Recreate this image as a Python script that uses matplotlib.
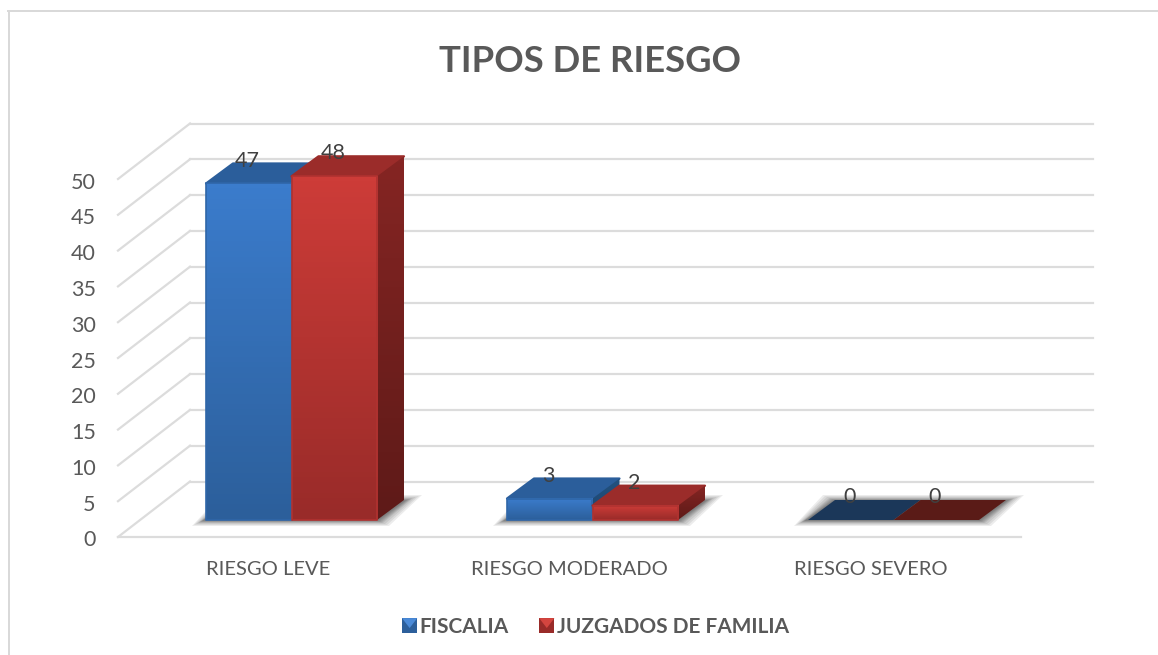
import matplotlib
matplotlib.use('Agg')
import matplotlib.pyplot as plt
import numpy as np
from matplotlib.colors import LinearSegmentedColormap
from matplotlib.legend_handler import HandlerBase
from matplotlib.lines import Line2D
from matplotlib.patches import Patch, Polygon, Rectangle
from matplotlib.transforms import ScaledTranslation

categories = ['RIESGO LEVE', 'RIESGO MODERADO', 'RIESGO SEVERO']
fiscalia = [47, 3, 0]
juzgados = [48, 2, 0]
series_names = ['FISCALIA', 'JUZGADOS DE FAMILIA']
y_ticks = [0, 5, 10, 15, 20, 25, 30, 35, 40, 45, 50]

W, H = 1158, 655
plt.rcParams['font.family'] = ['Lato', 'DejaVu Sans']

fig = plt.figure(figsize=(W / 100, H / 100), dpi=100)
# axes box = front of the floor, 0 at y=537 and 50 at y=179 (pixels)
ax = fig.add_axes([118 / W, 1 - 537 / H, (1021 - 118) / W, (537 - 179) / H])
ax.set_xlim(-0.5, 2.5)
ax.set_ylim(0, 50)
ax.patch.set_visible(False)
for s in ax.spines.values():
    s.set_visible(False)

px_x = 3 / (1021 - 118)
px_y = 50 / (537 - 179)
wall_dx, wall_dy = 72 * px_x, 55.5 * px_y
base_dx, base_dy = 23 * px_x, 17 * px_y
bar_dx, bar_dy = 27 * px_x, 20 * px_y
bar_w = 85.5 * px_x
grid_c = '#dcdcdc'

# walls
for v in y_ticks:
    ax.plot([-0.5, -0.5 + wall_dx], [v, v + wall_dy], color=grid_c, lw=1.6,
            clip_on=False, zorder=1)
    ax.plot([-0.5 + wall_dx, 2.5 + wall_dx], [v + wall_dy, v + wall_dy], color=grid_c,
            lw=1.6, clip_on=False, zorder=1)
ax.plot([-0.5, 2.5], [0, 0], color=grid_c, lw=1.6, clip_on=False, zorder=1)

ax.set_xticks(range(3))
ax.set_xticklabels(categories, fontsize=14.5, color='#595959')
ax.set_yticks(y_ticks)
ax.set_yticklabels(y_ticks, fontsize=15.5, color='#595959')
ax.tick_params(length=0)
ax.tick_params(axis='x', pad=17)
ax.tick_params(axis='y', pad=16)
# labels sit a bit under the wall lines
down = ScaledTranslation(0, -1.5 / 100, fig.dpi_scale_trans)
for t in ax.get_yticklabels():
    t.set_transform(t.get_transform() + down)


def grad(c_top, c_bot, x0, x1, y0, y1, z):
    cm = LinearSegmentedColormap.from_list('g', [c_bot, c_top])
    ax.imshow(np.linspace(1, 0, 64).reshape(-1, 1), cmap=cm, aspect='auto',
              extent=(x0, x1, y0, y1), zorder=z, clip_on=False, vmin=0, vmax=1)


def shadow(x0, x1, z):
    y0 = base_dy
    for grow in [12, 10, 8, 6, 5, 4, 3, 2, 1]:
        gx, gy = grow * px_x, grow * px_y * 0.5
        pts = [(x0 - gx - 2 * px_x, y0 - gy), (x1 + gx, y0 - gy),
               (x1 + bar_dx + gx * 1.5, y0 + bar_dy * 0.95 + gy),
               (x0 + bar_dx - gx, y0 + bar_dy * 0.95 + gy)]
        ax.add_patch(Polygon(pts, fc='black', ec='none', alpha=0.075, zorder=z, clip_on=False))


def bar3d(x0, val, front, side, top, flat, z):
    x1 = x0 + bar_w
    y0 = base_dy
    y1 = y0 + val
    if val == 0:
        ax.add_patch(Polygon([(x0, y0), (x1, y0), (x1 + bar_dx, y0 + bar_dy), (x0 + bar_dx, y0 + bar_dy)],
                             fc=flat, ec='none', zorder=z, clip_on=False))
        return
    ax.add_patch(Polygon([(x0, y1), (x1, y1), (x1 + bar_dx, y1 + bar_dy), (x0 + bar_dx, y1 + bar_dy)],
                         fc=top, ec=top, lw=1.6, joinstyle='round', zorder=z, clip_on=False))
    cm = LinearSegmentedColormap.from_list('s', [side[1], side[0]])
    im = ax.imshow(np.linspace(1, 0, 64).reshape(-1, 1), cmap=cm, aspect='auto', vmin=0, vmax=1,
                   extent=(x1, x1 + bar_dx, y0, y1 + bar_dy), zorder=z + 0.05)
    clip = Polygon([(x1, y0), (x1 + bar_dx, y0 + bar_dy), (x1 + bar_dx, y1 + bar_dy), (x1, y1)],
                   transform=ax.transData, fc='none', ec='none', clip_on=False)
    ax.add_patch(clip)
    im.set_clip_path(clip)
    # side goes above the axes box, so clip box must be the whole figure
    im.set_clip_box(fig.bbox)
    grad(front[0], front[1], x0, x1, y0, y1, z + 0.1)
    ax.add_patch(Rectangle((x0, y0), bar_w, val, fc='none', ec=front[2], lw=1.4, alpha=0.85,
                           joinstyle='round', zorder=z + 0.2, clip_on=False))


blue = (('#3b7ccc', '#2c5f9b', '#2f66a8'), ('#23517f', '#1d4670'), '#2b5e9b', '#1b3759')
red = (('#cd3c38', '#992b29', '#b03230'), ('#852523', '#5e1a18'), '#9b2c2a', '#5a1b17')

for i in range(3):
    xl = i - bar_w + base_dx
    shadow(xl, xl + 2 * bar_w, 2)
    bar3d(xl, fiscalia[i], blue[0], blue[1], blue[2], blue[3], 3)
    bar3d(xl + bar_w, juzgados[i], red[0], red[1], red[2], red[3], 4)
    for x, v in ((xl, fiscalia[i]), (xl + bar_w, juzgados[i])):
        ax.annotate(str(v), (x + bar_w / 2, base_dy + v), xytext=(-1, 16.5), textcoords='offset points',
                    ha='center', va='center', fontsize=15.5, color='#404040', zorder=6,
                    annotation_clip=False)

ax.set_xlim(-0.5, 2.5)
ax.set_ylim(0, 50)

fig.text(590 / W, 1 - 61.5 / H, 'TIPOS DE RIESGO', ha='center', va='center', fontsize=26.3,
         fontweight='bold', color='#595959')

# outer frame of the chart, only top and left are in the picture
fig.add_artist(Line2D([9 / W, 9 / W], [0, 1 - 11 / H], transform=fig.transFigure,
                      color='#d9d9d9', lw=1.44))
fig.add_artist(Line2D([8 / W, 1], [1 - 11 / H, 1 - 11 / H], transform=fig.transFigure,
                      color='#d9d9d9', lw=1.44))


class Icon(HandlerBase):
    def create_artists(self, legend, orig, xd, yd, w, h, fs, trans):
        s = min(w, h)
        x0, y0 = -xd, -yd
        return [Rectangle((x0, y0), s, s, fc=orig.get_facecolor(), ec='none', transform=trans),
                Polygon([(x0, y0 + s), (x0 + s, y0 + s), (x0 + s / 2, y0 + s * 0.35)],
                        fc=orig.get_edgecolor(), ec='none', transform=trans)]


handles = [Patch(fc='#2c5f9b', ec='#4a8ad8'), Patch(fc='#992b29', ec='#d4453f')]
fig.legend(handles, series_names, handler_map={Patch: Icon()}, loc='center',
           bbox_to_anchor=(595.5 / W, 1 - 627 / H), ncol=2, frameon=False,
           prop={'size': 15, 'weight': 'bold'}, labelcolor='#595959',
           handlelength=0.75, handleheight=0.75, handletextpad=0.1, columnspacing=1.45)

fig.savefig('out.png', dpi=100)
